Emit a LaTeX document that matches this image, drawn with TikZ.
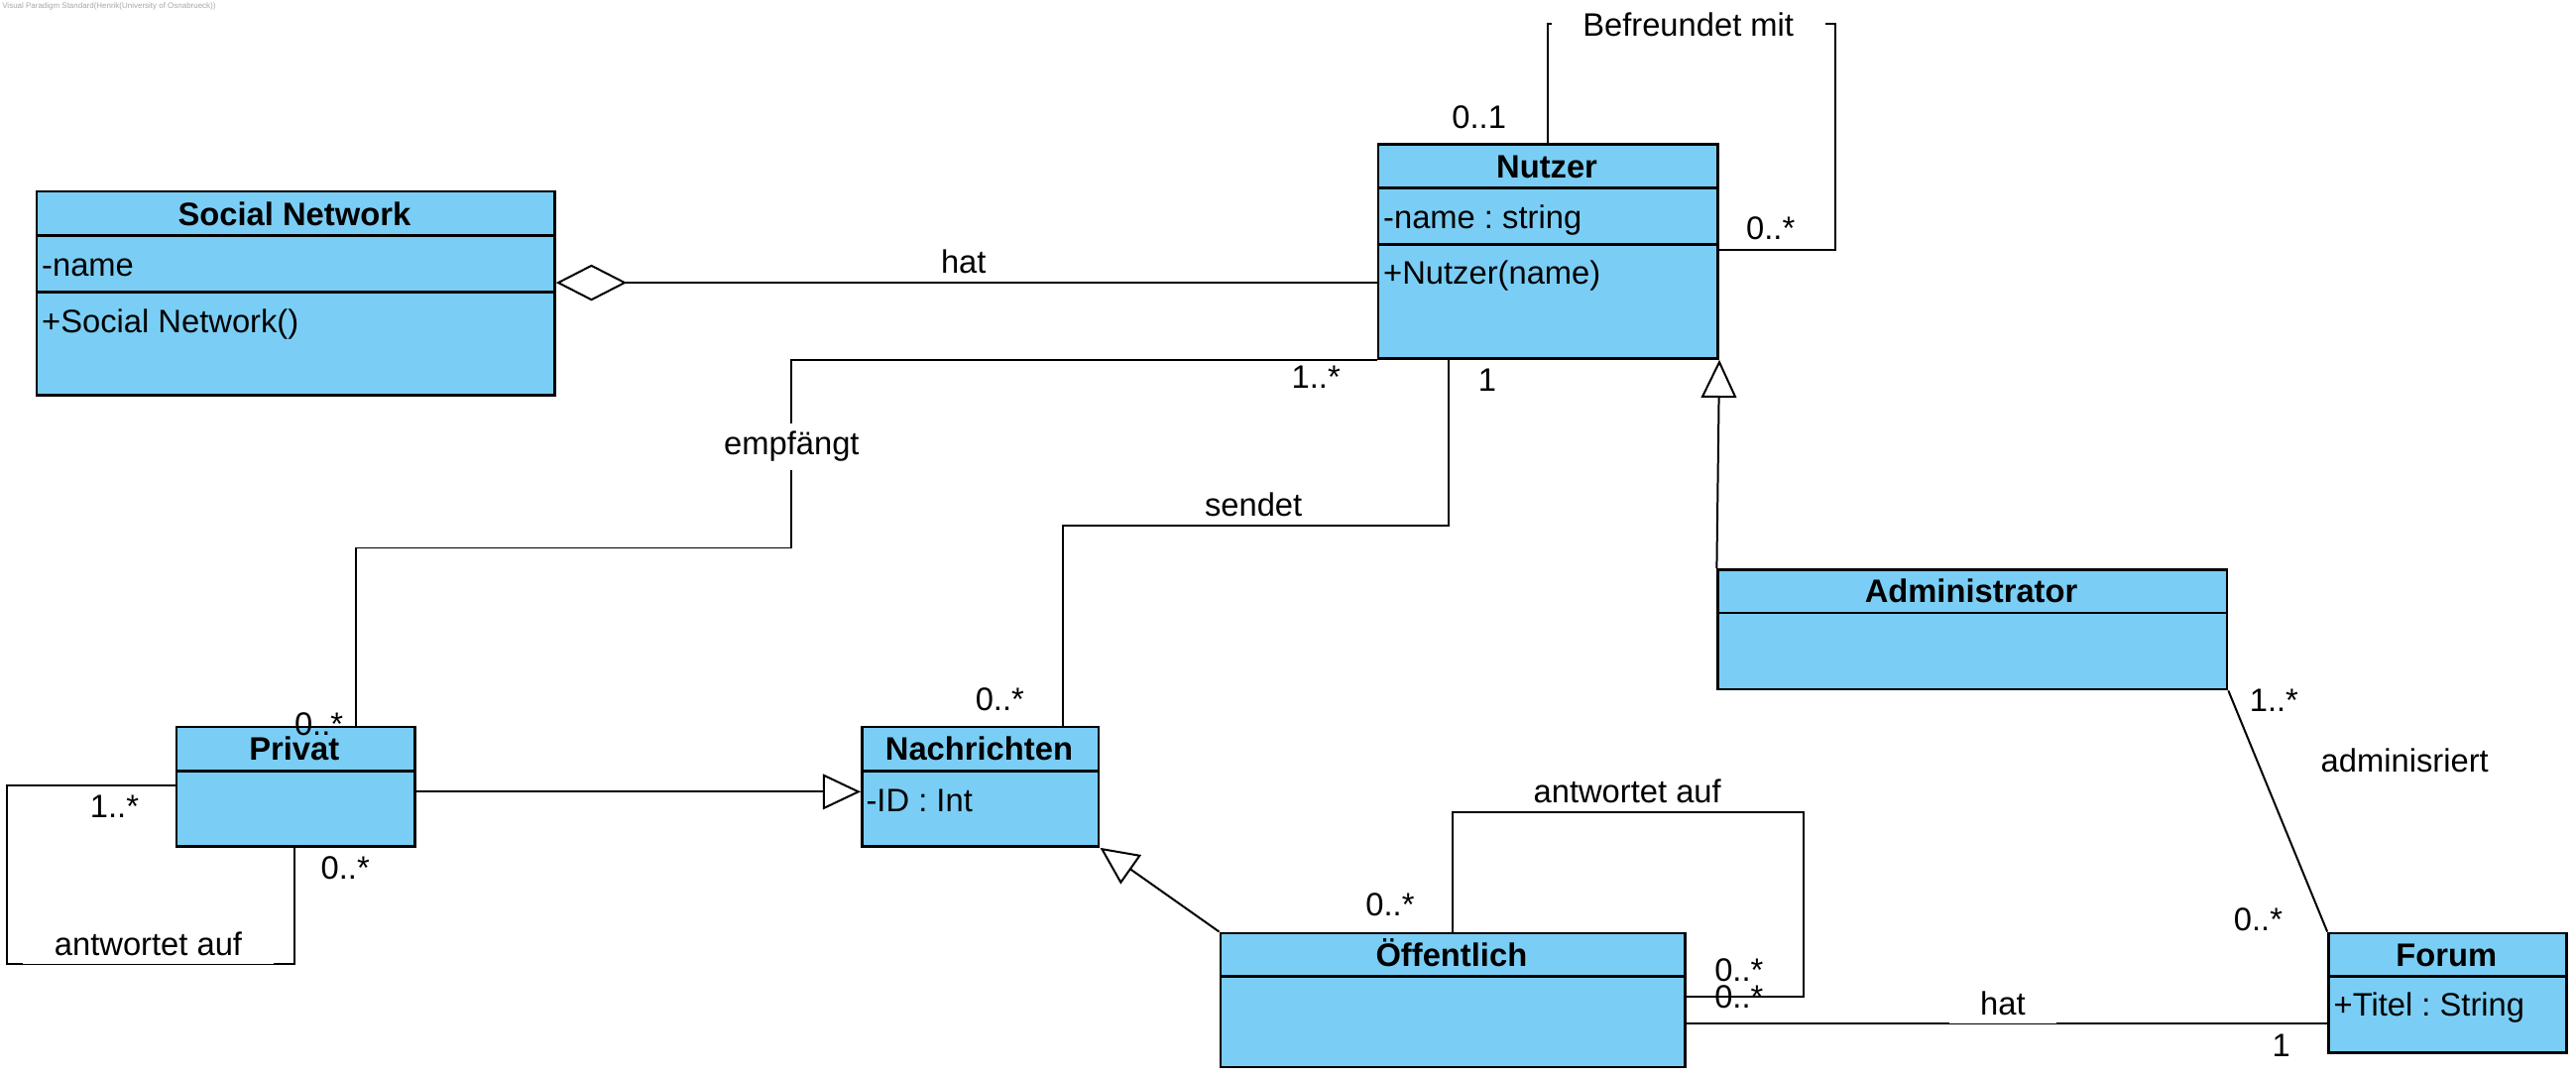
\documentclass[tikz,border=0pt]{standalone}
\usepackage{fontspec}
\setmainfont{Liberation Sans}
\usepackage{xcolor}
\definecolor{umlblau}{RGB}{122,206,245}
\usepackage{tikz}
\usetikzlibrary{arrows.meta}
\usetikzlibrary{positioning}
\frenchspacing

\begin{document}
\begin{tikzpicture}[x=0.5pt, y=-0.5pt,
    every node/.style={font=\fontsize{9.85}{11}\selectfont, inner sep=0pt},
    klasse/.style={draw, fill=umlblau, line width=0.8pt, anchor=north west},
    trenn/.style={line width=0.8pt},
    assoz/.style={line width=0.6pt},
    aggr/.style={line width=0.6pt, -{Diamond[open, length=21.5pt, width=11pt]}},
    erbt/.style={line width=0.6pt, -{Triangle[open, length=11.5pt, width=10.75pt]}},
    rolle/.style={fill=white, inner xsep=9.5pt, inner ysep=2.5pt},
    titel/.style={anchor=base, font=\fontsize{9.85}{11}\selectfont\bfseries},
    attr/.style={anchor=base west}] % Soziales Netzwerk

      \useasboundingbox (0,0) rectangle (1564,653.8);
      \node[anchor=north west, text=gray!70, font=\fontsize{2.4}{3}\selectfont] (wasserzeichen) at (1,1)
      {Visual Paradigm Standard(Henrik(University of Osnabrueck))};

      % Klassen
      \node[klasse, minimum width=157.25pt, minimum height=61.85pt] (social) at (21.5,115.3) {};
      \draw[trenn] (21.5,143) -- (336,143);
      \draw[trenn] (21.5,177.2) -- (336,177.2);
      \node[titel] (socialtitel) at (178.75,137) {Social Network};
      \node[attr] (socialname) at (25,167.8) {-name};
      \node[attr] (socialop) at (25,201.8) {+Social Network()};

      \node[klasse, minimum width=103.15pt, minimum height=65.05pt] (nutzer) at (836,86.7) {};
      \draw[trenn] (836,114) -- (1042.3,114);
      \draw[trenn] (836,148.2) -- (1042.3,148.2);
      \node[titel] (nutzertitel) at (939.15,108) {Nutzer};
      \node[attr] (nutzername) at (839.5,138.6) {-name : string};
      \node[attr] (nutzerop) at (839.5,172.6) {+Nutzer(name)};

      \node[klasse, minimum width=72.35pt, minimum height=36.25pt] (privat) at (106.3,440.5) {};
      \draw[trenn] (106.3,468) -- (251,468);
      \node[titel] (privattitel) at (178.65,461.4) {Privat};

      \node[klasse, minimum width=71.85pt, minimum height=36.25pt] (nachrichten) at (522.6,440.5) {};
      \draw[trenn] (522.6,468) -- (666.3,468);
      \node[titel] (nachrichtentitel) at (594.45,461.4) {Nachrichten};
      \node[attr] (nachrichtenid) at (525.5,492.7) {-ID : Int};

      \node[klasse, minimum width=154.5pt, minimum height=36.3pt] (admin) at (1042.3,345) {};
      \draw[trenn] (1042.3,372) -- (1351.3,372);
      \node[titel] (admintitel) at (1196.8,365.9) {Administrator};

      \node[klasse, minimum width=141.05pt, minimum height=40.7pt] (oeff) at (740.2,565.6) {};
      \draw[trenn] (740.2,592.7) -- (1022.3,592.7);
      \node[titel] (oefftitel) at (881.25,586.4) {Öffentlich};

      \node[klasse, minimum width=72.3pt, minimum height=36.4pt] (forum) at (1413,565.6) {};
      \draw[trenn] (1413,592.7) -- (1557.6,592.7);
      \node[titel] (forumtitel) at (1485.3,586.4) {Forum};
      \node[attr] (forumtitel2) at (1416.5,616.7) {+Titel : String};

      % Assoziationen
      \coordinate (hatlinie) at (600,171.6);
      \draw[aggr] (nutzer.west |- hatlinie) -- (social.east |- hatlinie);
      \node[rolle, anchor=south] (hatsocial) at (585,171.6) {hat};

      \coordinate (empfknick) at (480.6,332.6);
      \coordinate (empfx) at (216,0);
      \draw[assoz] (nutzer.south west) -| (empfknick) -| (privat.north -| empfx);
      \node[rolle] (empfaengt) at (480.6,271) {empfängt};

      \coordinate (sendrechts) at (879.8,319);
      \coordinate (sendlinks) at (645.4,319);
      \draw[assoz] (nutzer.south -| sendrechts) -- (sendrechts) -- (sendlinks)
      -- (nachrichten.north -| sendlinks);
      \node[rolle, anchor=south] (sendet) at (761,319) {sendet};

      \coordinate (freundlinks) at (939.7,14.2);
      \coordinate (freundrechts) at (1114,151.8);
      \draw[assoz] (nutzer.north -| freundlinks) -- (freundlinks) -| (freundrechts)
      -- (nutzer.east |- freundrechts);
      \node[rolle] (befreundet) at (1025,15) {Befreundet mit};

      \coordinate (privatlinks) at (4,476.8);
      \coordinate (privatunten) at (178.7,585.4);
      \draw[assoz] (privat.west |- privatlinks) -- (privatlinks) |- (privatunten)
      -- (privat.south -| privatunten);
      \node[rolle, anchor=south] (privatantwort) at (90,585.4) {antwortet auf};

      \coordinate (oeffoben) at (881.8,493);
      \coordinate (oeffrechts) at (1095,605.2);
      \draw[assoz] (oeff.north -| oeffoben) -- (oeffoben) -| (oeffrechts)
      -- (oeff.east |- oeffrechts);
      \node[rolle, anchor=south] (oeffantwort) at (988,493) {antwortet auf};

      \coordinate (hatforum) at (1216,621.5);
      \draw[assoz] (oeff.east |- hatforum) -- (forum.west |- hatforum);
      \node[rolle, anchor=south] (hatforumlabel) at (hatforum) {hat};

      \draw[assoz] (admin.south east) -- (forum.north west);
      \node (adminisriert) at (1460,461.4) {adminisriert};

      % Generalisierungen
      \coordinate (privatgen) at (400,480.6);
      \draw[erbt] (admin.north west) -- (nutzer.south east);
      \draw[erbt] (privat.east |- privatgen) -- (nachrichten.west |- privatgen);
      \draw[erbt] (oeff.north west) -- (nachrichten.south east);

      % Multiplizitaeten
      \node (m01) at (898,70.9) {0..1};
      \node (m02) at (1075,138.6) {0..*};
      \node (m03) at (799,229) {1..*};
      \node (m04) at (903,231) {1};
      \node (m05) at (193.6,439.5) {0..*};
      \node (m06) at (607,424.4) {0..*};
      \node (m07) at (69.5,489.5) {1..*};
      \node (m08) at (209.6,527) {0..*};
      \node (m09) at (844,549) {0..*};
      \node (m10) at (1055.8,588.6) {0..*};
      \node (m11) at (1055.8,605.2) {0..*};
      \node (m12) at (1380.6,425) {1..*};
      \node (m13) at (1371,558.4) {0..*};
      \node (m14) at (1385,634.4) {1};

    \end{tikzpicture}
\end{document}
